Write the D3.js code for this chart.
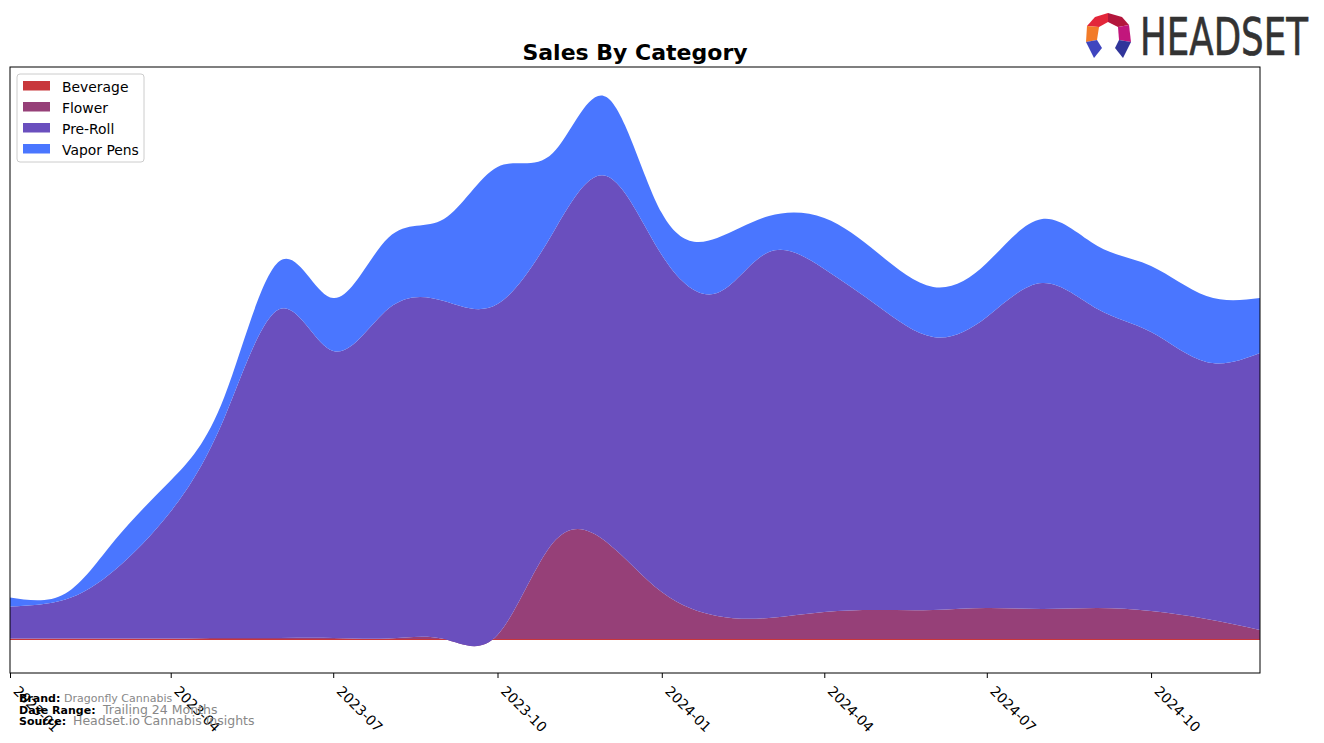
<!DOCTYPE html>
<html>
<head>
<meta charset="utf-8">
<script src="https://cdn.jsdelivr.net/npm/d3@7"></script>
<style>
  html, body { margin: 0; padding: 0; background: #fff; }
  svg { display: block; font-family: "DejaVu Sans", sans-serif; }
</style>
</head>
<body>
<svg id="chart" width="1324" height="743"></svg>
<script>
// ---- data ----
const months = ["2023-01","2023-02","2023-03","2023-04","2023-05","2023-06","2023-07","2023-08","2023-09","2023-10","2023-11","2023-12",
                "2024-01","2024-02","2024-03","2024-04","2024-05","2024-06","2024-07","2024-08","2024-09","2024-10","2024-11","2024-12"];
const categories = ["Beverage", "Flower", "Pre-Roll", "Vapor Pens"];
const beverage  = [1, 1, 1, 1, 1, 1, 1, 1, 1, 1, 1, 1, 1, 1, 1, 1, 1, 1, 1, 1, 1, 1, 1, 1];
const flower    = [0.5, 0.5, 0.5, 0.5, 1, 1, 1, 0.5, 0, 4, 96, 97, 47, 23, 21, 27, 29, 29, 31, 30, 31, 28, 20, 9];
const preRoll   = [32, 39, 69, 127, 220, 329, 287, 330, 338, 331, 310, 366, 337, 323, 366, 343, 304, 273, 291, 326, 299, 279, 257, 277];
const vaporPens = [9, 6, 30, 31, 21, 48, 53, 71, 82, 137, 80, 79, 42, 55, 36, 51, 53, 50, 54, 64, 63, 66, 66, 55];
const tickLabels = ["2023-01","2023-04","2023-07","2023-10","2024-01","2024-04","2024-07","2024-10"];
const yLimits = [-33, 573];
const colors = ["#c8373b", "#964078", "#6a4fbe", "#4a76ff"];

// ---- layout ----
const svg = d3.select("#chart");
const plot = { left: 10, right: 1260, top: 67, bottom: 673 };
const parse = d3.timeParse("%Y-%m");
const dates = months.map(parse);

const rows = months.map((m, i) => ({
  date: dates[i],
  "Beverage": beverage[i],
  "Flower": flower[i],
  "Pre-Roll": preRoll[i],
  "Vapor Pens": vaporPens[i]
}));

const x = d3.scaleTime().domain(d3.extent(dates)).range([plot.left, plot.right]);
const y = d3.scaleLinear().domain(yLimits).range([plot.bottom, plot.top]);
const color = d3.scaleOrdinal().domain(categories).range(colors);

const stack = d3.stack().keys(categories);
const series = stack(rows);

const area = d3.area()
  .x(d => x(d.data.date))
  .y0(d => y(d[0]))
  .y1(d => y(d[1]))
  .curve(d3.curveNatural);

svg.append("defs").append("clipPath").attr("id", "clip")
  .append("rect").attr("x", plot.left).attr("y", plot.top)
  .attr("width", plot.right - plot.left).attr("height", plot.bottom - plot.top);

svg.append("g").attr("clip-path", "url(#clip)")
  .selectAll("path").data(series).join("path")
  .attr("d", area)
  .attr("fill", d => color(d.key));

// frame
svg.append("rect")
  .attr("x", plot.left).attr("y", plot.top)
  .attr("width", plot.right - plot.left).attr("height", plot.bottom - plot.top)
  .attr("fill", "none").attr("stroke", "#000").attr("stroke-width", 1);

// x axis
const tickDates = tickLabels.map(parse);
const xAxis = d3.axisBottom(x).tickValues(tickDates).tickFormat(d3.timeFormat("%Y-%m")).tickSize(5).tickPadding(3);
const gx = svg.append("g").attr("transform", `translate(0,${plot.bottom})`).call(xAxis);
gx.select(".domain").remove();
gx.selectAll(".tick line").attr("stroke", "#000");
gx.selectAll(".tick text")
  .attr("font-size", "13.9px")
  .attr("font-family", "DejaVu Sans")
  .attr("fill", "#000")
  .attr("text-anchor", "start")
  .attr("x", 0).attr("y", 0).attr("dy", 0)
  .attr("transform", "translate(2,19) rotate(45)");

// title
svg.append("text")
  .attr("x", 635).attr("y", 60)
  .attr("text-anchor", "middle")
  .attr("font-size", "22px").attr("font-weight", "bold")
  .text("Sales By Category");

// legend
const lg = svg.append("g");
lg.append("rect").attr("x", 17).attr("y", 74).attr("width", 127).attr("height", 88)
  .attr("rx", 3).attr("fill", "#fff").attr("fill-opacity", 0.8).attr("stroke", "#cccccc");
categories.forEach((c, i) => {
  lg.append("rect").attr("x", 23).attr("y", 81 + i * 21).attr("width", 27).attr("height", 9.5)
    .attr("fill", color(c));
  lg.append("text").attr("x", 62).attr("y", 92 + i * 21)
    .attr("font-size", "13.9px").text(c);
});

// footer
const foot = [
  { label: "Brand:", value: "Dragonfly Cannabis", vx: 64, y: 702, vs: "11px" },
  { label: "Date Range:", value: "Trailing 24 Months", vx: 103, y: 714, vs: "12.5px" },
  { label: "Source:", value: "Headset.io Cannabis Insights", vx: 73, y: 725, vs: "12.5px" }
];
foot.forEach(f => {
  svg.append("text").attr("x", 19).attr("y", f.y).attr("font-size", "11px")
    .attr("font-weight", "bold").attr("fill", "#000").text(f.label);
  svg.append("text").attr("x", f.vx).attr("y", f.y).attr("font-size", f.vs)
    .attr("fill", "#888").text(f.value);
});

// logo
const logo = svg.append("g");
const facets = [
  { p: [[1087,26],[1095,17],[1108,13],[1108,22],[1099,27]], c: "#e3263a" },
  { p: [[1108,13],[1122,17],[1129,25],[1118,27],[1108,22]], c: "#b3163c" },
  { p: [[1087,26],[1099,27],[1097,40],[1086,42]], c: "#f27b29" },
  { p: [[1118,27],[1129,25],[1131,42],[1119,40]], c: "#c2167c" },
  { p: [[1086,42],[1097,40],[1102,48],[1094,58]], c: "#3f45bf" },
  { p: [[1119,40],[1131,42],[1123,58],[1115,48]], c: "#30359a" }
];
facets.forEach(f => {
  logo.append("polygon").attr("points", f.p.map(q => q.join(",")).join(" ")).attr("fill", f.c);
});
logo.append("text").attr("x", 1140).attr("y", 55)
  .attr("font-family", "'Liberation Sans Narrow', 'DejaVu Sans Condensed', sans-serif")
  .attr("font-size", "51px").attr("fill", "#333")
  .attr("stroke", "#333").attr("stroke-width", 0.6)
  .attr("textLength", 168).attr("lengthAdjust", "spacingAndGlyphs")
  .text("HEADSET");
</script>
</body>
</html>
